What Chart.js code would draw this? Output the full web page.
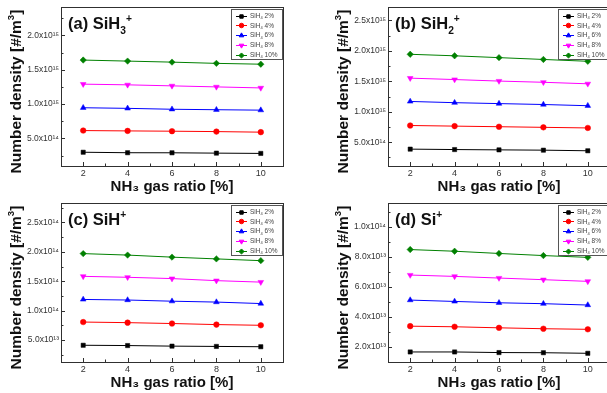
<!DOCTYPE html>
<html>
<head>
<meta charset="utf-8">
<script src="https://cdn.jsdelivr.net/npm/chart.js@4/dist/chart.umd.min.js"></script>
<style>
html,body{margin:0;padding:0;background:#fff;overflow:hidden;width:607px;height:393px;}
.panel{position:absolute;}
</style>
</head>
<body>
<canvas id="pa" class="panel" width="300" height="197" style="left:0px;top:0px"></canvas>
<canvas id="pb" class="panel" width="300" height="197" style="left:327px;top:0px"></canvas>
<canvas id="pc" class="panel" width="300" height="197" style="left:0px;top:196px"></canvas>
<canvas id="pd" class="panel" width="300" height="197" style="left:327px;top:196px"></canvas>
<script>
// ---------- data ----------
const nh3Ratio = [2, 4, 6, 8, 10];
const xTickValues = [2, 4, 6, 8, 10];
const seriesNames = ['2%', '4%', '6%', '8%', '10%'];

// (a) SiH3+
const siH3_2  = [3.0e14, 2.93e14, 2.92e14, 2.87e14, 2.83e14];
const siH3_4  = [6.15e14, 6.1e14, 6.06e14, 6.0e14, 5.92e14];
const siH3_6  = [9.47e14, 9.38e14, 9.25e14, 9.18e14, 9.12e14];
const siH3_8  = [1.29e15, 1.28e15, 1.265e15, 1.25e15, 1.235e15];
const siH3_10 = [1.64e15, 1.625e15, 1.61e15, 1.592e15, 1.58e15];
const yTicksA = [5e14, 1e15, 1.5e15, 2e15];
const yLabelsA = ['5.0x10¹⁴', '1.0x10¹⁵', '1.5x10¹⁵', '2.0x10¹⁵'];

// (b) SiH2+
const siH2_2  = [3.87e14, 3.8e14, 3.75e14, 3.7e14, 3.6e14];
const siH2_4  = [7.75e14, 7.65e14, 7.55e14, 7.45e14, 7.35e14];
const siH2_6  = [1.17e15, 1.15e15, 1.135e15, 1.12e15, 1.10e15];
const siH2_8  = [1.553e15, 1.53e15, 1.505e15, 1.485e15, 1.46e15];
const siH2_10 = [1.945e15, 1.92e15, 1.89e15, 1.86e15, 1.83e15];
const yTicksB = [5e14, 1e15, 1.5e15, 2e15, 2.5e15];
const yLabelsB = ['5.0x10¹⁴', '1.0x10¹⁵', '1.5x10¹⁵', '2.0x10¹⁵', '2.5x10¹⁵'];

// (c) SiH+
const siH_2  = [4.1e13, 4.05e13, 3.95e13, 3.9e13, 3.85e13];
const siH_4  = [8.05e13, 7.95e13, 7.8e13, 7.62e13, 7.5e13];
const siH_6  = [1.19e14, 1.18e14, 1.16e14, 1.145e14, 1.12e14];
const siH_8  = [1.583e14, 1.567e14, 1.545e14, 1.51e14, 1.485e14];
const siH_10 = [1.97e14, 1.945e14, 1.91e14, 1.88e14, 1.85e14];
const yTicksC = [5e13, 1e14, 1.5e14, 2e14, 2.5e14];
const yLabelsC = ['5.0x10¹³', '1.0x10¹⁴', '1.5x10¹⁴', '2.0x10¹⁴', '2.5x10¹⁴'];

// (d) Si+
const si_2  = [1.67e13, 1.67e13, 1.63e13, 1.62e13, 1.58e13];
const si_4  = [3.39e13, 3.35e13, 3.28e13, 3.22e13, 3.18e13];
const si_6  = [5.13e13, 5.04e13, 4.95e13, 4.89e13, 4.8e13];
const si_8  = [6.8e13, 6.71e13, 6.6e13, 6.49e13, 6.38e13];
const si_10 = [8.5e13, 8.39e13, 8.24e13, 8.1e13, 7.98e13];
const yTicksD = [2e13, 4e13, 6e13, 8e13, 1e14];
const yLabelsD = ['2.0x10¹³', '4.0x10¹³', '6.0x10¹³', '8.0x10¹³', '1.0x10¹⁴'];

// ---------- styles ----------
const colors = ['#000000', '#ff0000', '#0000ff', '#ff00ff', '#008000'];
const styles = ['rect', 'circle', 'triangle', 'triangle', 'rectRot'];
const rotations = [0, 0, 0, 180, 0];
const radii = [3, 2.8, 3.3, 3.3, 3.2];
const FONT = "'Liberation Sans', Arial, sans-serif";

function segFont(s, size) {
  let fs = size, dy = 0;
  if (s.k === 'sub') { fs = size * 0.62; dy = size * 0.28; }
  if (s.k === 'sup') { fs = size * 0.62; dy = -size * 0.42; }
  return {font: (s.bold === false ? '' : 'bold ') + fs + 'px ' + FONT, dy};
}
function measureRich(ctx, segs, size) {
  let w = 0;
  for (const s of segs) { ctx.font = segFont(s, size).font; w += ctx.measureText(s.t).width; }
  return w;
}
function drawRich(ctx, x, y, segs, size) {
  let cx = x;
  for (const s of segs) {
    const f = segFont(s, size);
    ctx.font = f.font;
    ctx.fillText(s.t, cx, y + f.dy);
    cx += ctx.measureText(s.t).width;
  }
}

const yTitleSegs = [{t: 'Number density [#/m'}, {t: '3', k: 'sup'}, {t: ']'}];

function makePanel(id, seriesData, yMin, yMax, yTicks, yLabels, titleSegs) {
  const datasets = seriesData.map((d, i) => ({
    label: 'SiH4 ' + seriesNames[i],
    data: nh3Ratio.map((x, j) => ({x: x, y: d[j]})),
    borderColor: colors[i],
    backgroundColor: colors[i],
    borderWidth: 1,
    pointStyle: styles[i],
    pointRotation: rotations[i],
    pointRadius: radii[i],
    pointBorderWidth: 0.5,
    tension: 0
  }));
  const panelPlugin = {
    id: 'panelDecor',
    afterDraw(chart) {
      const ctx = chart.ctx, a = chart.chartArea;
      const xs = chart.scales.x, ys = chart.scales.y;
      ctx.save();
      ctx.strokeStyle = '#303030';
      ctx.lineWidth = 1;
      ctx.strokeRect(Math.round(a.left) + 0.5, Math.round(a.top) + 0.5,
                     Math.round(a.right - a.left), Math.round(a.bottom - a.top));
      ctx.beginPath();
      const step = yTicks[1] - yTicks[0];
      for (let v = yTicks[0] - step; v <= yMax + 1e-9 * step; v += step / 2) {
        if (v < yMin) continue;
        const py = Math.round(ys.getPixelForValue(v)) + 0.5;
        const major = yTicks.some(t => Math.abs(t - v) < step * 1e-6);
        const len = major ? 4 : 2.5;
        ctx.moveTo(a.left, py); ctx.lineTo(a.left + len, py);
      }
      for (let v = 1; v <= 11; v += 1) {
        if (v <= xs.min || v >= xs.max) continue;
        const px = Math.round(xs.getPixelForValue(v)) + 0.5;
        const len = (v % 2 === 0) ? 4 : 2.5;
        ctx.moveTo(px, a.bottom); ctx.lineTo(px, a.bottom - len);
      }
      ctx.stroke();
      ctx.fillStyle = '#111';
      ctx.textBaseline = 'alphabetic';
      ctx.textAlign = 'left';
      // panel title
      drawRich(ctx, a.left + 7, a.top + 22, titleSegs, 16.5);
      // y axis title (rotated)
      ctx.save();
      const tsize = 15.5;
      const tw = measureRich(ctx, yTitleSegs, tsize);
      ctx.translate(20.5, (a.top + a.bottom) / 2 + 5);
      ctx.rotate(-Math.PI / 2);
      drawRich(ctx, -tw / 2, 0, yTitleSegs, tsize);
      ctx.restore();
      // legend
      const bw = 51, bh = 50;
      const bx = a.right - bw - 1, by = a.top + 2;
      ctx.fillStyle = '#fff';
      ctx.fillRect(bx, by, bw, bh);
      ctx.strokeStyle = '#555';
      ctx.strokeRect(Math.round(bx) + 0.5, Math.round(by) + 0.5, bw, bh);
      chart.data.datasets.forEach((ds, i) => {
        const ry = by + 6.5 + i * 9.75;
        ctx.strokeStyle = colors[i];
        ctx.lineWidth = 1;
        ctx.beginPath();
        ctx.moveTo(bx + 5, Math.round(ry) + 0.5); ctx.lineTo(bx + 16, Math.round(ry) + 0.5);
        ctx.stroke();
        ctx.fillStyle = colors[i];
        Chart.helpers.drawPoint(ctx, {pointStyle: styles[i], rotation: rotations[i],
          radius: radii[i] * 0.8, borderWidth: 0.5}, bx + 10.5, Math.round(ry) + 0.5);
        ctx.fillStyle = '#444';
        ctx.textBaseline = 'middle';
        drawRich(ctx, bx + 19, ry + 0.5, [
          {t: 'SiH', bold: false}, {t: '4', k: 'sub', bold: false}, {t: ' ' + seriesNames[i], bold: false}
        ], 6.5);
      });
      ctx.restore();
    }
  };
  return new Chart(document.getElementById(id), {
    type: 'line',
    data: {datasets},
    plugins: [panelPlugin],
    options: {
      responsive: false,
      animation: false,
      devicePixelRatio: 1,
      layout: {padding: {top: 4, right: 17, left: 0, bottom: 0}},
      plugins: {legend: {display: false}, tooltip: {enabled: false}, title: {display: false}},
      scales: {
        x: {
          type: 'linear', min: 1, max: 11,
          afterFit(s) { s.height = 31; },
          afterBuildTicks(s) { s.ticks = xTickValues.map(v => ({value: v})); },
          grid: {display: false, drawTicks: false, tickLength: 0},
          border: {display: false},
          ticks: {padding: 2, color: '#333', font: {family: FONT, size: 9}, maxRotation: 0,
                  callback: v => String(v)},
          title: {display: true, text: 'NH₃ gas ratio [%]', color: '#111',
                  font: {family: FONT, size: 15, weight: 'bold'}, padding: {top: 0, bottom: 1}}
        },
        y: {
          type: 'linear', min: yMin, max: yMax,
          afterFit(s) { s.width = 61; },
          afterBuildTicks(s) { s.ticks = yTicks.map(v => ({value: v})); },
          grid: {display: false, drawTicks: false, tickLength: 0},
          border: {display: false},
          ticks: {padding: 2, color: '#333', font: {family: FONT, size: 8.5},
                  callback: (v) => yLabels[yTicks.findIndex(t => Math.abs(t - v) < t * 1e-6)]},
          title: {display: false}
        }
      }
    }
  });
}

makePanel('pa', [siH3_2, siH3_4, siH3_6, siH3_8, siH3_10], 1e14, 2.41e15, yTicksA, yLabelsA,
  [{t: '(a) SiH'}, {t: '3', k: 'sub'}, {t: '+', k: 'sup'}]);
makePanel('pb', [siH2_2, siH2_4, siH2_6, siH2_8, siH2_10], 1.1e14, 2.72e15, yTicksB, yLabelsB,
  [{t: '(b) SiH'}, {t: '2', k: 'sub'}, {t: '+', k: 'sup'}]);
makePanel('pc', [siH_2, siH_4, siH_6, siH_8, siH_10], 1.25e13, 2.83e14, yTicksC, yLabelsC,
  [{t: '(c) SiH'}, {t: '+', k: 'sup'}]);
makePanel('pd', [si_2, si_4, si_6, si_8, si_10], 1.0e13, 1.16e14, yTicksD, yLabelsD,
  [{t: '(d) Si'}, {t: '+', k: 'sup'}]);
</script>
</body>
</html>
